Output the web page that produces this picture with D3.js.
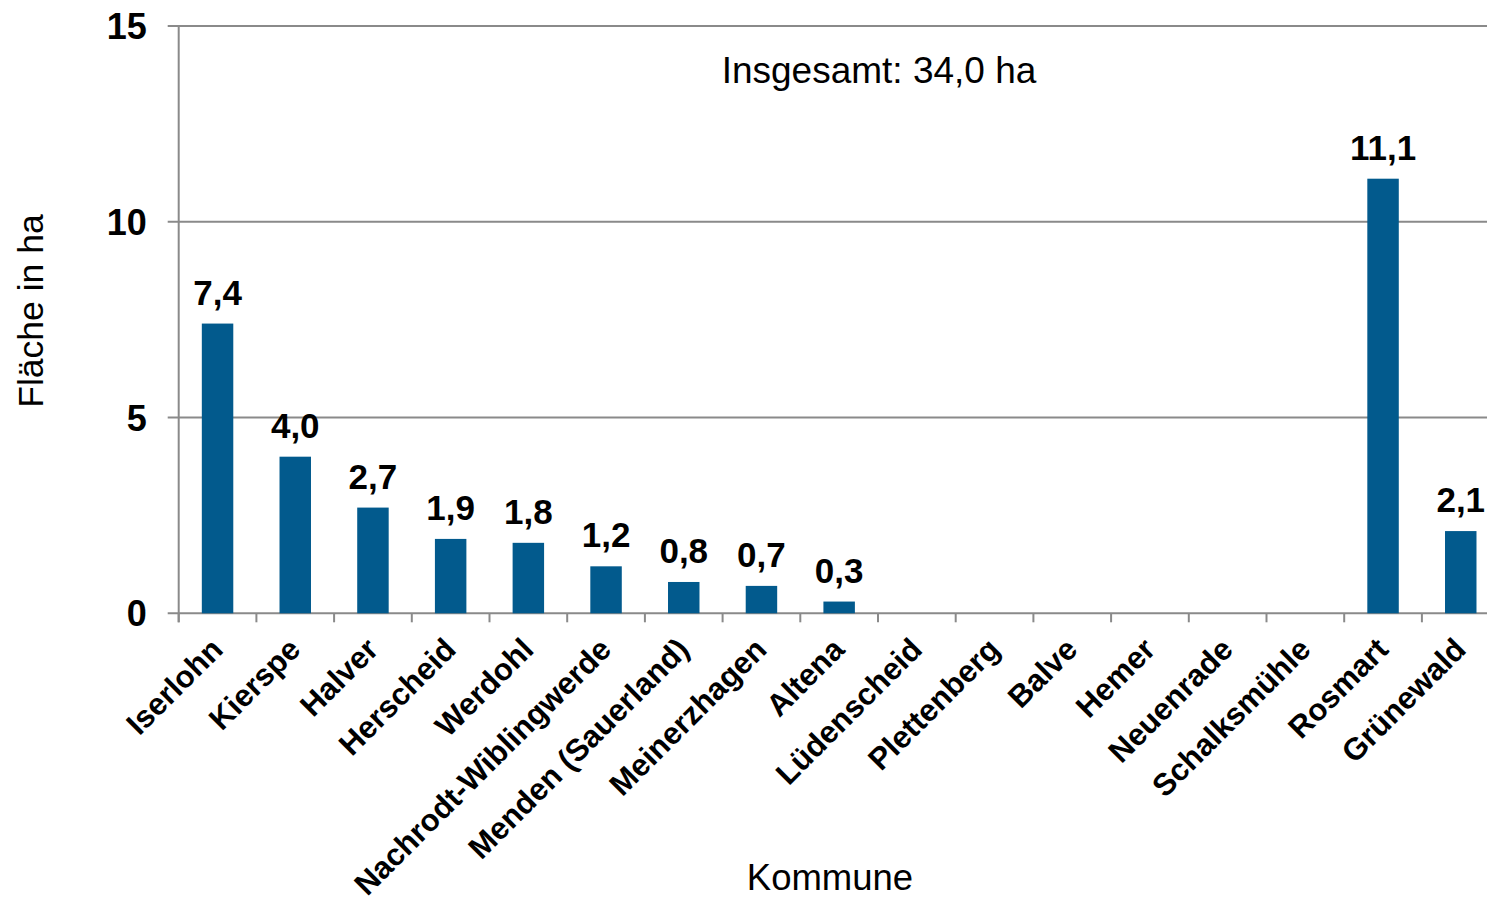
<!DOCTYPE html>
<html>
<head>
<meta charset="utf-8">
<script src="https://cdn.jsdelivr.net/npm/d3@7"></script>
<style>
html,body{margin:0;padding:0;background:#fff;overflow:hidden;}
svg{display:block;font-family:"Liberation Sans",Arial,sans-serif;}
</style>
</head>
<body>
<svg id="chart" width="1487" height="905"></svg>
<script>
const categories = ["Iserlohn","Kierspe","Halver","Herscheid","Werdohl","Nachrodt-Wiblingwerde","Menden (Sauerland)","Meinerzhagen","Altena","Lüdenscheid","Plettenberg","Balve","Hemer","Neuenrade","Schalksmühle","Rosmart","Grünewald"];
const values = [7.4, 4.0, 2.7, 1.9, 1.8, 1.2, 0.8, 0.7, 0.3, 0, 0, 0, 0, 0, 0, 11.1, 2.1];
const yTicks = [0, 5, 10, 15];
const yTitle = "Fläche in ha";
const xTitle = "Kommune";
const note = "Insgesamt: 34,0 ha";

(function () {
const svg = d3.select("#chart");
const W = 1487;
const pLeft = 178.7, pRight = 1499.6, pTop = 26, pBottom = 613.3;

const x = d3.scaleBand().domain(categories).range([pLeft, pRight]).paddingInner(0.595).paddingOuter(0.2975);
const y = d3.scaleLinear().domain([0, 15]).range([pBottom, pTop]);
const step = x.step();
const fmt = v => d3.format(".1f")(v).replace(".", ",");
const gridColor = "#8a8a8a";

// gridlines
svg.append("g").selectAll("line").data(yTicks).join("line")
  .attr("x1", pLeft - 11).attr("x2", W)
  .attr("y1", d => y(d)).attr("y2", d => y(d))
  .attr("stroke", gridColor).attr("stroke-width", 2);

// y axis line
svg.append("line").attr("x1", pLeft).attr("x2", pLeft).attr("y1", pTop).attr("y2", pBottom + 9)
  .attr("stroke", gridColor).attr("stroke-width", 2);

// x ticks at category boundaries
svg.append("g").selectAll("line").data(d3.range(categories.length + 1)).join("line")
  .attr("x1", i => pLeft + i * step).attr("x2", i => pLeft + i * step)
  .attr("y1", pBottom).attr("y2", pBottom + 9)
  .attr("stroke", gridColor).attr("stroke-width", 2);

// y tick labels
svg.append("g").selectAll("text").data(yTicks).join("text")
  .attr("x", pLeft - 32).attr("y", d => y(d) + 13)
  .attr("text-anchor", "end").attr("font-size", 36).attr("font-weight", "bold")
  .text(d => d);

// bars
const data = categories.map((c, i) => ({c, v: values[i]}));
svg.append("g").selectAll("rect").data(data.filter(d => d.v > 0)).join("rect")
  .attr("x", d => x(d.c)).attr("width", x.bandwidth())
  .attr("y", d => y(d.v)).attr("height", d => y(0) - y(d.v))
  .attr("fill", "#025a8d");

// value labels
svg.append("g").selectAll("text").data(data.filter(d => d.v > 0)).join("text")
  .attr("x", d => x(d.c) + x.bandwidth() / 2).attr("y", d => y(d.v) - 19)
  .attr("text-anchor", "middle").attr("font-size", 35).attr("font-weight", "bold")
  .text(d => fmt(d.v));

// category labels
svg.append("g").selectAll("text").data(categories).join("text")
  .attr("transform", d => `translate(${x(d) + x.bandwidth() / 2 + 7},${pBottom + 38}) rotate(-45)`)
  .attr("text-anchor", "end").attr("font-size", 31).attr("font-weight", "bold")
  .text(d => d);

// axis titles
svg.append("text").attr("transform", `translate(43,${(215 + 407) / 2}) rotate(-90)`)
  .attr("text-anchor", "middle").attr("font-size", 35.5).text(yTitle);
svg.append("text").attr("x", 830).attr("y", 890)
  .attr("text-anchor", "middle").attr("font-size", 36.5).text(xTitle);

// annotation
svg.append("text").attr("x", 879).attr("y", 83)
  .attr("text-anchor", "middle").attr("font-size", 37).text(note);
})();
</script>
</body>
</html>
